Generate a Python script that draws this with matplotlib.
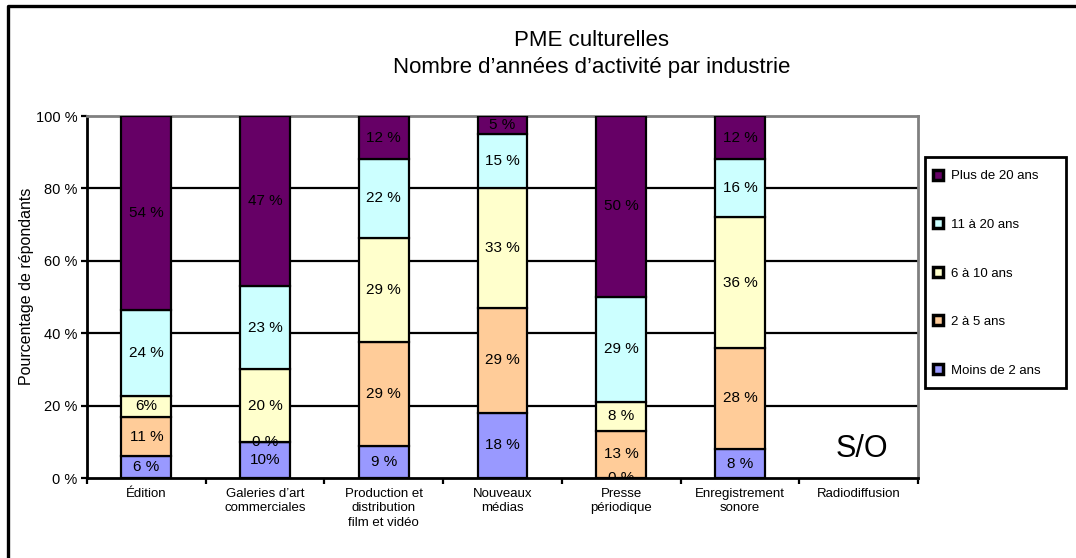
import numpy as np
import matplotlib.pyplot as plt
from matplotlib.lines import Line2D
from matplotlib.patches import Rectangle

plt.rcParams['font.family'] = ['Liberation Sans', 'DejaVu Sans']

# Données (en %)
industries = ['Édition', 'Galeries d’art\ncommerciales', 'Production et\ndistribution\nfilm et vidéo',
              'Nouveaux\nmédias', 'Presse\npériodique', 'Enregistrement\nsonore', 'Radiodiffusion']
series_names = ['Moins de 2 ans', '2 à 5 ans', '6 à 10 ans', '11 à 20 ans', 'Plus de 20 ans']
moins_2 = [6, 10, 9, 18, 0, 8, 0]
de_2_a_5 = [11, 0, 29, 29, 13, 28, 0]
de_6_a_10 = [6, 20, 29, 33, 8, 36, 0]
de_11_a_20 = [24, 23, 22, 15, 29, 16, 0]
plus_20 = [54, 47, 12, 5, 50, 12, 0]

lab_moins_2 = ['6 %', '10%', '9 %', '18 %', '0 %', '8 %', '']
lab_2_a_5 = ['11 %', '0 %', '29 %', '29 %', '13 %', '28 %', '']
lab_6_a_10 = ['6%', '20 %', '29 %', '33 %', '8 %', '36 %', '']
lab_11_a_20 = ['24 %', '23 %', '22 %', '15 %', '29 %', '16 %', '']
lab_plus_20 = ['54 %', '47 %', '12 %', '5 %', '50 %', '12 %', '']

colors = ['#9999FF', '#FFCC99', '#FFFFCC', '#CCFFFF', '#660066']

data = np.array([moins_2, de_2_a_5, de_6_a_10, de_11_a_20, plus_20], dtype=float)
labels = [lab_moins_2, lab_2_a_5, lab_6_a_10, lab_11_a_20, lab_plus_20]

# Empilement à 100 %
totals = data.sum(axis=0)
shares = np.divide(data * 100, totals, out=np.zeros_like(data), where=totals > 0)

W, H = 1076, 558
fig = plt.figure(figsize=(W / 100, H / 100), dpi=100)
ax = fig.add_axes([87 / W, 1 - 478 / H, (918 - 87) / W, (478 - 116) / H])

x = np.arange(len(industries))
bottom = np.zeros(len(industries))
for i in range(len(series_names)):
    has = totals > 0
    ax.bar(x[has], shares[i][has], width=0.42, bottom=bottom[has], color=colors[i],
           edgecolor='black', linewidth=1.6, zorder=3)
    for j in np.where(has)[0]:
        ax.text(x[j], bottom[j] + shares[i][j] / 2, labels[i][j], ha='center', va='center',
                fontsize=11, color='black', zorder=4, clip_on=True)
    bottom = bottom + shares[i]

ax.text(6.03, 8, 'S/O', ha='center', va='center', fontsize=22)

# Grille
for yv in [20, 40, 60, 80]:
    ax.axhline(yv, color='black', linewidth=1.6, zorder=1)

ax.set_xlim(-0.5, 6.5)
ax.set_ylim(0, 100)
ax.set_yticks([0, 20, 40, 60, 80, 100])
ax.set_yticklabels(['0 %', '20 %', '40 %', '60 %', '80 %', '100 %'], fontsize=10.5)
ax.set_xticks(x)
ax.set_xticklabels(industries, fontsize=9.5, linespacing=1.3, va='top')
ax.set_xticks(np.arange(-0.5, 7, 1), minor=True)
ax.tick_params(axis='x', which='major', length=0, pad=7)
ax.tick_params(axis='x', which='minor', length=4, width=1.6, direction='out')
ax.tick_params(axis='y', length=4, width=1.6, pad=3)

fig.text(27 / W, 1 - 286 / H, 'Pourcentage de répondants', rotation=90,
         ha='center', va='center', fontsize=11.5)

ax.spines['left'].set_linewidth(2)
ax.spines['bottom'].set_linewidth(2)
for s in ['top', 'right']:
    ax.spines[s].set_color('#808080')
    ax.spines[s].set_linewidth(2)

fig.text(592 / W, 1 - 54 / H, 'PME culturelles\nNombre d’années d’activité par industrie',
         ha='center', va='center', fontsize=16, linespacing=1.4)

# Légende
fig.patches.append(Rectangle((925 / W, 1 - 388 / H), (1066 - 925) / W, (388 - 157) / H,
                             transform=fig.transFigure, fill=False, edgecolor='black', linewidth=2))
handles = [Line2D([], [], marker='s', linestyle='None', markersize=6.5, markerfacecolor=colors[i],
                  markeredgecolor='black', markeredgewidth=2.5) for i in range(4, -1, -1)]
fig.legend(handles, series_names[::-1], loc='upper left', bbox_to_anchor=(923 / W, 1 - 161 / H),
           frameon=False, fontsize=9.5, handlelength=0.8, handletextpad=0.6, labelspacing=2.75,
           borderpad=0.2)

# Cadre extérieur
fig.add_artist(Line2D([8 / W, 8 / W, 1], [0, 1 - 6 / H, 1 - 6 / H], transform=fig.transFigure,
                      color='black', linewidth=2.4))

fig.savefig('out.png', dpi=100)
